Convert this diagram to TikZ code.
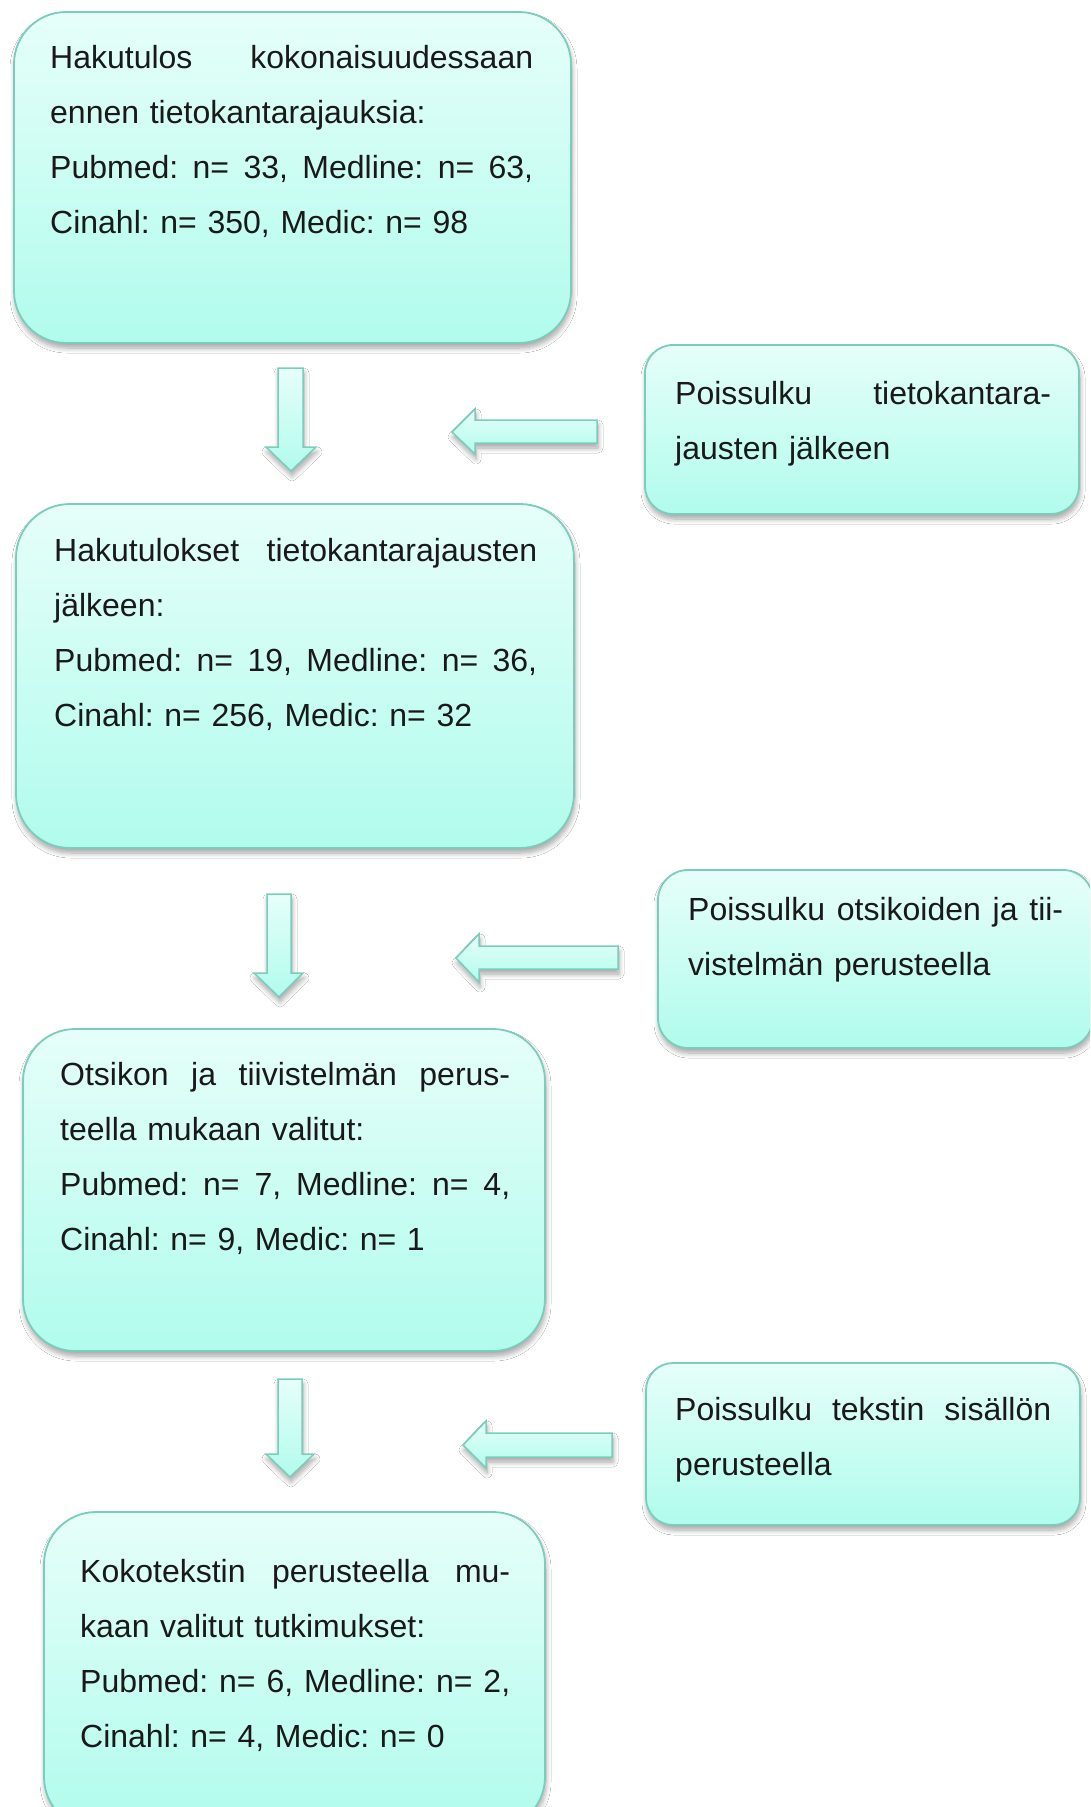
\documentclass[tikz,border=0pt]{standalone}
\usepackage{fontspec}
\setmainfont{Liberation Sans}
\usetikzlibrary{shadows.blur}
\definecolor{boxtop}{RGB}{230,254,250}
\definecolor{boxbot}{RGB}{176,252,236}
\definecolor{boxline}{RGB}{122,205,188}
\frenchspacing
\newcommand{\jline}[2]{\leavevmode\hbox to #1pt{\spaceskip=0.278em plus 1fil\relax #2}}
\begin{document}
\begin{tikzpicture}[x=1pt,y=-1pt,
  softshadow/.style={blur shadow={shadow xshift=1pt, shadow yshift=-5pt, shadow opacity=35, shadow blur steps=8, shadow blur radius=5pt}},
  flowbox/.style={draw=boxline, line width=1.8pt, top color=boxtop, bottom color=boxbot, softshadow},
  blockarrow/.style={draw=boxline, line width=1.5pt, line join=miter, top color=boxtop, bottom color=boxbot, softshadow},
  boxtext/.style={anchor=base west, inner sep=0pt, align=left, font=\fontsize{32}{55}\selectfont\frenchspacing, text=black!90}]
\useasboundingbox (0,0) rectangle (1090,1807);
\fill[white] (0,0) rectangle (1090,1807);
\clip (0,0) rectangle (1090,1807);

% boxes
\draw[flowbox, rounded corners=52] (14,12) rectangle (571,343) coordinate (b1);
\draw[flowbox, rounded corners=28] (645,345) rectangle (1079,514) coordinate (b2);
\draw[flowbox, rounded corners=54] (16,504) rectangle (574,848) coordinate (b3);
\draw[flowbox, rounded corners=30] (658,870) rectangle (1093,1048) coordinate (b4);
\draw[flowbox, rounded corners=52] (23,1029) rectangle (545,1351) coordinate (b5);
\draw[flowbox, rounded corners=27] (646,1363) rectangle (1080,1525) coordinate (b6);
\draw[flowbox, rounded corners=52] (44,1512) rectangle (545,1829) coordinate (b7);

% texts
\node[boxtext, text width=483pt] (t1) at (50,68) {\jline{483}{Hakutulos kokonaisuudessaan}\\ennen tietokantarajauksia:\\\jline{483}{Pubmed: n= 33, Medline: n= 63,}\\Cinahl: n= 350, Medic: n= 98};
\node[boxtext, text width=376pt] (t2) at (675,404) {\jline{376}{Poissulku tietokantara-}\\jausten jälkeen};
\node[boxtext, text width=483pt] (t3) at (54,561) {\jline{483}{Hakutulokset tietokantarajausten}\\jälkeen:\\\jline{483}{Pubmed: n= 19, Medline: n= 36,}\\Cinahl: n= 256, Medic: n= 32};
\node[boxtext, text width=375pt] (t4) at (688,920) {\jline{375}{Poissulku otsikoiden ja tii-}\\vistelmän perusteella};
\node[boxtext, text width=450pt] (t5) at (60,1085) {\jline{450}{Otsikon ja tiivistelmän perus-}\\teella mukaan valitut:\\\jline{450}{Pubmed: n= 7, Medline: n= 4,}\\Cinahl: n= 9, Medic: n= 1};
\node[boxtext, text width=376pt] (t6) at (675,1420) {\jline{376}{Poissulku tekstin sisällön}\\perusteella};
\node[boxtext, text width=430pt] (t7) at (80,1582) {\jline{430}{Kokotekstin perusteella mu-}\\kaan valitut tutkimukset:\\\jline{430}{Pubmed: n= 6, Medline: n= 2,}\\Cinahl: n= 4, Medic: n= 0};

% down block arrows
\draw[blockarrow] (278,368) -- (303,368) -- (303,447) -- (316,447) -- (291,471) -- (266,447) -- (278,447) -- cycle;
\draw[blockarrow] (267,894) -- (291,894) -- (291,973) -- (303,973) -- (279,997) -- (254,973) -- (267,973) -- cycle;
\draw[blockarrow] (278,1379) -- (302,1379) -- (302,1454) -- (314,1454) -- (290,1477) -- (266,1454) -- (278,1454) -- cycle;

% left block arrows
\draw[blockarrow] (597,420) -- (597,443) -- (475,443) -- (475,454) -- (452,432) -- (475,409) -- (475,420) -- cycle;
\draw[blockarrow] (618,946) -- (618,969) -- (479,969) -- (479,982) -- (456,958) -- (479,934) -- (479,946) -- cycle;
\draw[blockarrow] (612,1433) -- (612,1457) -- (486,1457) -- (486,1468) -- (463,1445) -- (486,1421) -- (486,1433) -- cycle;
\end{tikzpicture}
\end{document}
